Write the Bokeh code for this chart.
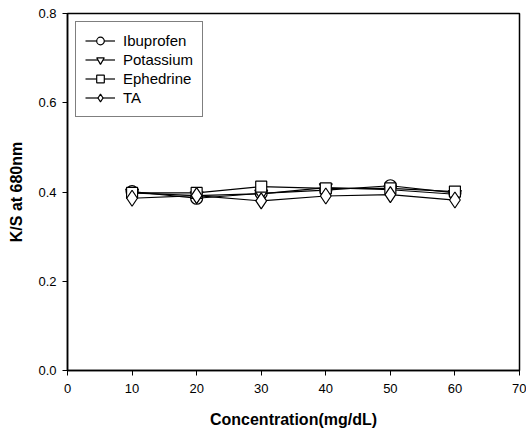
from bokeh.plotting import figure
from bokeh.models import Legend, LegendItem, FixedTicker, Range1d, PrintfTickFormatter
from bokeh.embed import file_html
from bokeh.resources import INLINE

conc = [10, 20, 30, 40, 50, 60]
ibuprofen = [0.401, 0.386, 0.397, 0.404, 0.414, 0.398]
potassium = [0.398, 0.392, 0.396, 0.410, 0.405, 0.395]
ephedrine = [0.398, 0.398, 0.412, 0.408, 0.408, 0.401]
ta = [0.386, 0.392, 0.380, 0.391, 0.394, 0.382]
x_ticks = [0, 10, 20, 30, 40, 50, 60, 70]
y_ticks = [0.0, 0.2, 0.4, 0.6, 0.8]

FONT = "Liberation Sans"

p = figure(width=526, height=431, output_backend="svg", toolbar_location=None,
           x_range=Range1d(0, 70), y_range=Range1d(0, 0.8),
           min_border_left=67, min_border_right=7, min_border_top=13, min_border_bottom=61)
p.xgrid.visible = False
p.ygrid.visible = False
p.outline_line_color = "black"
p.outline_line_width = 1.5
p.background_fill_color = "white"
p.border_fill_color = "white"

for ax in (p.xaxis[0], p.yaxis[0]):
    ax.axis_line_color = "black"
    ax.axis_line_width = 1.5
    ax.major_tick_in = 0
    ax.major_tick_out = 5
    ax.major_tick_line_color = "black"
    ax.minor_tick_in = 0
    ax.minor_tick_out = 0
    ax.major_label_text_font = FONT
    ax.major_label_text_font_size = "13px"
    ax.major_label_text_color = "black"
    ax.axis_label_text_font = FONT
    ax.axis_label_text_font_size = "16px"
    ax.axis_label_text_font_style = "bold"
    ax.axis_label_text_color = "black"

p.xaxis[0].ticker = FixedTicker(ticks=x_ticks)
p.yaxis[0].ticker = FixedTicker(ticks=y_ticks)
p.yaxis[0].formatter = PrintfTickFormatter(format="%.1f")
p.xaxis[0].axis_label = "Concentration(mg/dL)"
p.yaxis[0].axis_label = "K/S at 680nm"
p.xaxis[0].major_label_standoff = 8
p.xaxis[0].axis_label_standoff = 15
p.yaxis[0].major_label_standoff = 6
p.yaxis[0].axis_label_standoff = 10

series = [
    ("Ibuprofen", ibuprofen, "circle", 12),
    ("Potassium", potassium, "inverted_triangle", 13),
    ("Ephedrine", ephedrine, "square", 11),
    ("TA", ta, "diamond", 16),
]

items = []
for name, vals, marker, size in series:
    lr = p.line(conc, vals, line_color="black", line_width=1.2)
    sr = p.scatter(conc, vals, marker=marker, size=size, fill_color="white",
                   line_color="black", line_width=1.2)
    items.append(LegendItem(label=name, renderers=[lr, sr]))

legend = Legend(items=items, location="top_left", margin=8, padding=9, spacing=0,
                glyph_width=30, glyph_height=19, label_height=19, label_standoff=8,
                label_text_font=FONT, label_text_font_size="15px", label_text_color="black",
                border_line_color="black", border_line_width=1.2,
                background_fill_color="white", background_fill_alpha=1.0)
p.add_layout(legend)

open("out.html", "w").write(file_html(p, INLINE))
